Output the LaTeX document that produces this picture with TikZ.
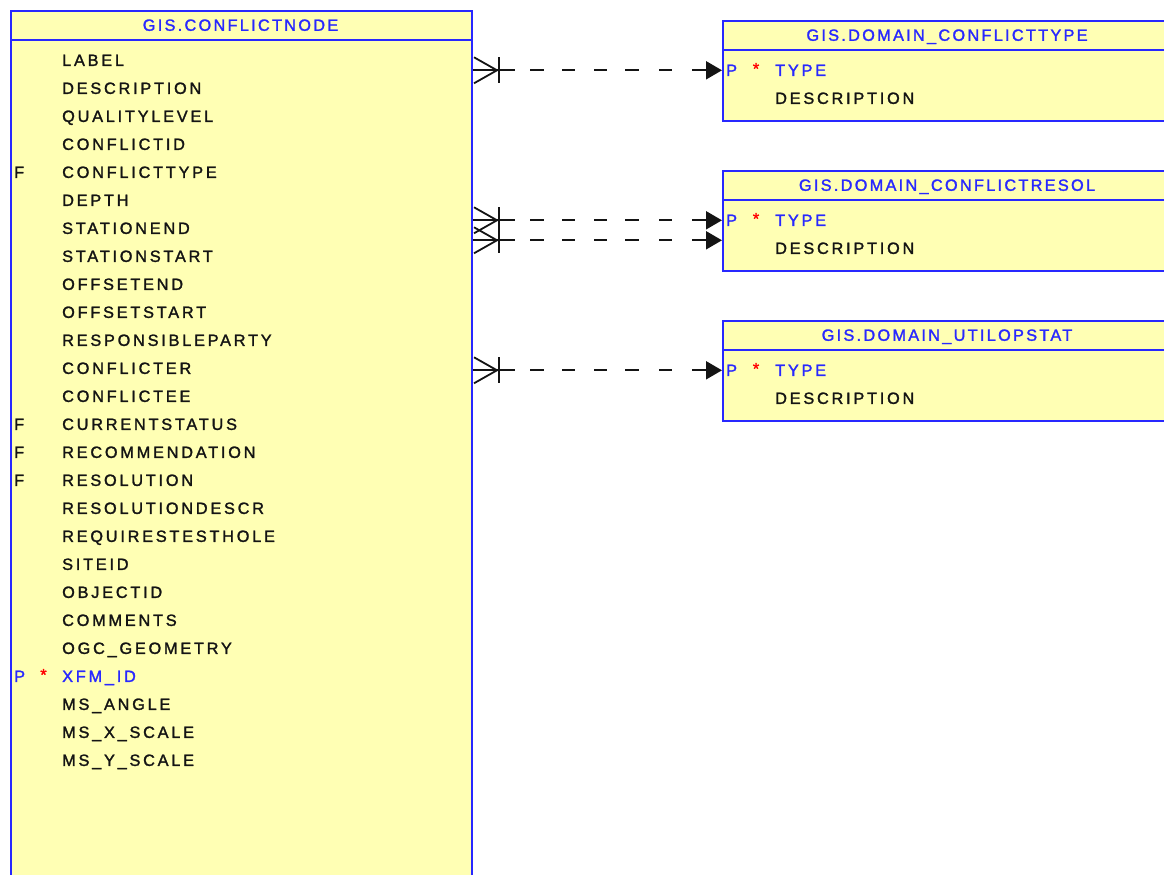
\documentclass[tikz,border=0pt]{standalone}
\usepackage{fontspec}
\setmainfont{Liberation Sans}[LetterSpace=17,FakeBold=1.6]
\newfontfamily\ttlfont{Liberation Sans}[LetterSpace=14,FakeBold=1.6]
\usetikzlibrary{arrows.meta}
\definecolor{tblfill}{RGB}{255,255,180}
\definecolor{tblblue}{RGB}{40,40,255}
\definecolor{pkred}{RGB}{255,0,0}
\definecolor{txtdark}{RGB}{20,20,20}
\begin{document}
\begin{tikzpicture}[x=1pt,y=-1pt,
  font=\fontsize{16.3}{19}\selectfont,
  tbl/.style={draw=tblblue, fill=tblfill, line width=2pt, inner sep=0, anchor=north west},
  hdr/.style={draw=tblblue, line width=2pt},
  ttl/.style={text=tblblue, inner sep=0, anchor=base, font=\ttlfont\fontsize{16.3}{19}\selectfont},
  row/.style={inner sep=0, anchor=base west, text=txtdark},
  row-n/.style={row}, row-F/.style={row}, row-P/.style={row, text=tblblue},
  pkl/.style={inner sep=0, anchor=base west, text=tblblue},
  star/.style={inner sep=0, anchor=base, text=pkred},
  fkl/.style={inner sep=0, anchor=base west, text=txtdark},
  rel/.style={line width=2pt, txtdark,
    dash pattern=on 42pt off 15pt on 14pt off 18pt on 13pt off 19pt on 13pt off 18pt on 14pt off 20pt on 13pt off 20pt on 100pt,
    -{Triangle[length=16pt,width=18pt]}},
  crowfoot/.pic={
    \draw[line width=1.8pt, txtdark] (1,-13) -- (24,0) -- (1,13);
    \draw[line width=1.8pt, txtdark] (26,-13) -- (26,13);
  }
]
\useasboundingbox (0,0) rectangle (1164,875);
\clip (0,0) rectangle (1164,875);
\fill[white] (0,0) rectangle (1164,875);

% main table
\node[tbl, minimum width=461pt, minimum height=900pt] (cn) at (10,10) {};
\draw[hdr] ([yshift=-30pt]cn.north west) -- ([yshift=-30pt]cn.north east);
\node[ttl] (cn-title) at (240.5,30.8) {GIS.CONFLICTNODE};
\foreach \name/\kind [count=\i from 0] in {
  LABEL/n, DESCRIPTION/n, QUALITYLEVEL/n, CONFLICTID/n, CONFLICTTYPE/F, DEPTH/n,
  STATIONEND/n, STATIONSTART/n, OFFSETEND/n, OFFSETSTART/n, RESPONSIBLEPARTY/n,
  CONFLICTER/n, CONFLICTEE/n, CURRENTSTATUS/F, RECOMMENDATION/F, RESOLUTION/F,
  RESOLUTIONDESCR/n, REQUIRESTESTHOLE/n, SITEID/n, OBJECTID/n, COMMENTS/n,
  OGC\_GEOMETRY/n, XFM\_ID/P, MS\_ANGLE/n, MS\_X\_SCALE/n, MS\_Y\_SCALE/n}
  \node[row-\kind] (cn-\i) at (62,{60+28*\i+5.9}) {\name};
\foreach \i in {4,13,14,15}
  \node[fkl] (cn-f\i) at (14,{60+28*\i+5.9}) {F};
\node[pkl] (cn-p22) at (14,{60+28*22+5.9}) {P};
\node[star] (cn-s22) at (43.5,{60+28*22+4.3}) {*};

% domain tables
\foreach \tb/\top/\ttext in {ct/20/GIS.DOMAIN\_CONFLICTTYPE, cr/170/GIS.DOMAIN\_CONFLICTRESOL, uo/320/GIS.DOMAIN\_UTILOPSTAT}{
  \node[tbl, minimum width=450pt, minimum height=100pt] (\tb) at (722,\top) {};
  \draw[hdr] ([yshift=-30pt]\tb.north west) -- ([yshift=-30pt]\tb.north east);
  \node[ttl] (\tb-title) at (947,{\top+20.8}) {\ttext};
  \node[pkl] (\tb-p) at (726,{\top+50+5.9}) {P};
  \node[star] (\tb-s) at (756,{\top+50+4.3}) {*};
  \node[row-P] (\tb-type) at (775,{\top+50+5.9}) {TYPE};
  \node[row] (\tb-desc) at (775,{\top+78+5.9}) {DESCRIPTION};
}

% relationships
\coordinate (r1s) at (cn.east |- ct-type);
\coordinate (r1e) at (ct.west |- ct-type);
\coordinate (r2s) at (cn.east |- cr-type);
\coordinate (r2e) at (cr.west |- cr-type);
\coordinate (r3s) at ([yshift=-20pt]r2s);
\coordinate (r3e) at ([yshift=-20pt]r2e);
\coordinate (r4s) at (cn.east |- uo-type);
\coordinate (r4e) at (uo.west |- uo-type);
\foreach \k in {1,2,3,4}{
  \draw[rel] (r\k s) -- (r\k e);
  \pic at (r\k s) {crowfoot};
}
\end{tikzpicture}
\end{document}
